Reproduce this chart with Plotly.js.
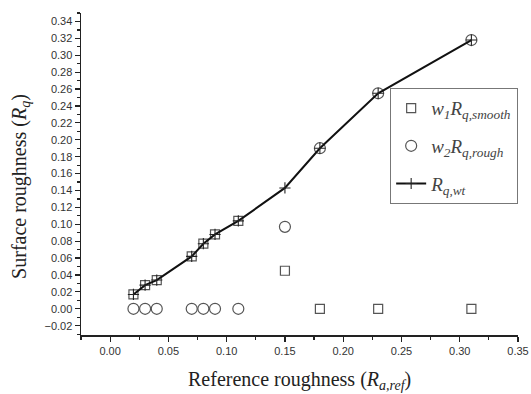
<!DOCTYPE html>
<html><head><meta charset="utf-8">
<script src="https://cdn.plot.ly/plotly-3.0.1.min.js"></script>
<style>html,body{margin:0;padding:0;background:#fff}#chart{width:531px;height:394px}</style>
</head><body><div id="chart"></div>
<script>
const xRef = [0.02, 0.03, 0.04, 0.07, 0.08, 0.09, 0.11, 0.15, 0.18, 0.23, 0.31];
const smooth = [0.017, 0.028, 0.034, 0.062, 0.077, 0.088, 0.104, 0.045, 0, 0, 0];
const rough = [0, 0, 0, 0, 0, 0, 0, 0.097, 0.190, 0.255, 0.318];
const rqwt = [0.017, 0.028, 0.034, 0.062, 0.077, 0.088, 0.104, 0.143, 0.190, 0.255, 0.318];

const serif = 'Liberation Serif, Times New Roman, serif';
const sans = 'Liberation Sans, Arial, sans-serif';

const traces = [
  {x: xRef, y: smooth, mode: 'markers', type: 'scatter', legendgroup: 'a',
   name: '<i>w<sub>1</sub>R<sub>q,smooth</sub></i>',
   marker: {symbol: 'square-open', size: 9, color: '#555', line: {width: 1.2}}},
  {x: xRef, y: rough, mode: 'markers', type: 'scatter', legendgroup: 'b',
   name: '<i>w<sub>2</sub>R<sub>q,rough</sub></i>',
   marker: {symbol: 'circle-open', size: 11, color: '#555', line: {width: 1.2}}},
  {x: xRef, y: rqwt, mode: 'lines+markers', type: 'scatter', legendgroup: 'c',
   name: '<i>R<sub>q,wt</sub></i>',
   line: {color: '#111', width: 2},
   marker: {symbol: 'cross-thin-open', size: 8, color: '#222', line: {width: 1.1, color: '#222'}}}
];

const axisCommon = {
  showgrid: false, zeroline: false, showline: true, linecolor: '#222', linewidth: 1.5,
  ticks: 'outside', ticklen: 5, tickwidth: 1.2, tickcolor: '#222',
  tickfont: {family: sans, size: 11, color: '#333'}, tickformat: '.2f'
};

const layout = {
  width: 531, height: 394,
  margin: {l: 81, r: 13, t: 13, b: 59},
  paper_bgcolor: '#fff', plot_bgcolor: '#fff',
  showlegend: true,
  xaxis: Object.assign({}, axisCommon, {
    range: [-0.025, 0.35], dtick: 0.05, tick0: 0,
    minor: {dtick: 0.025, ticks: 'outside', ticklen: 3, tickcolor: '#222'}
  }),
  yaxis: Object.assign({}, axisCommon, {
    range: [-0.031, 0.35], dtick: 0.02, tick0: 0,
    minor: {dtick: 0.01, ticks: 'outside', ticklen: 3, tickcolor: '#222'}
  }),
  annotations: [
    {text: 'Reference roughness (<i>R</i><sub><i>a,ref</i></sub>)', xref: 'paper', yref: 'paper',
     x: 0.5, y: 0, xanchor: 'center', yanchor: 'middle', yshift: -45, showarrow: false,
     font: {family: serif, size: 20, color: '#222'}},
    {text: 'Surface roughness (<i>R</i><sub><i>q</i></sub>)', xref: 'paper', yref: 'paper',
     x: 0, y: 0.46, xanchor: 'center', yanchor: 'middle', xshift: -60, textangle: -90, showarrow: false,
     font: {family: serif, size: 20, color: '#222'}}
  ],
  legend: {x: 0.707, y: 0.767, xanchor: 'left', yanchor: 'top',
    bordercolor: '#777', borderwidth: 1.2, bgcolor: '#fff', tracegroupgap: 10,
    font: {family: serif, size: 19, color: '#444'}}
};

Plotly.newPlot('chart', traces, layout, {displayModeBar: false, staticPlot: true});
</script></body></html>
